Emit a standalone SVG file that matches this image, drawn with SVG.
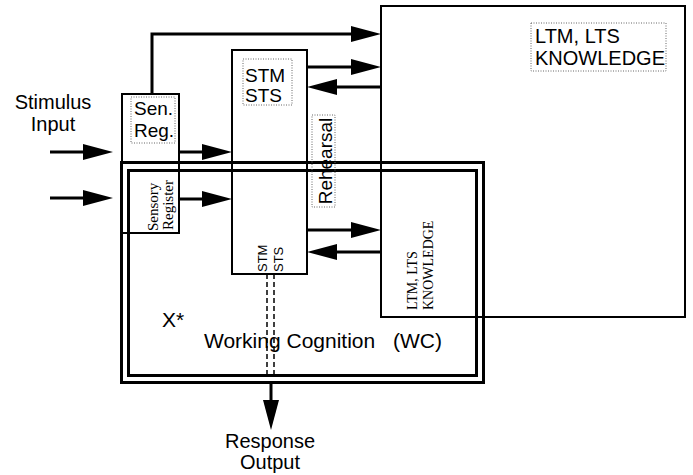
<svg xmlns="http://www.w3.org/2000/svg" width="693" height="475" viewBox="0 0 693 475">
<style>
.box{fill:none;stroke:#000;stroke-width:2}
.wc{fill:none;stroke:#000;stroke-width:3}
.lbl{fill:none;stroke:#666;stroke-width:1;stroke-dasharray:1 1.5}
.arr{fill:none;stroke:#000;stroke-width:3;marker-end:url(#ah)}
.dash{fill:none;stroke:#000;stroke-width:1.5;stroke-dasharray:5 3}
.sans{font-family:"Liberation Sans",Arial,sans-serif;fill:#000}
.serif{font-family:"Liberation Serif","Times New Roman",serif;fill:#000}
</style>
<defs>
<marker id="ah" markerWidth="32" markerHeight="18" refX="20" refY="9" orient="auto" markerUnits="userSpaceOnUse">
<path d="M0,1 L30,9 L0,17 Z" fill="#000"/>
</marker>
</defs>
<rect width="693" height="475" fill="#fff"/>

<g id="ltm">
<rect class="box" x="381" y="6" width="304" height="311"/>
<rect class="lbl" x="531" y="23" width="135" height="48"/>
<text class="sans" x="535" y="43" font-size="20">LTM, LTS</text>
<text class="sans" x="535" y="65" font-size="20">KNOWLEDGE</text>
<text class="serif" font-size="14" transform="translate(417,310) rotate(-90)">LTM, LTS</text>
<text class="serif" font-size="14" transform="translate(433,310) rotate(-90)">KNOWLEDGE</text>
</g>

<g id="stm">
<rect class="box" x="232" y="50" width="75" height="224"/>
<rect class="lbl" x="243" y="59" width="49" height="46"/>
<text class="sans" x="245" y="82" font-size="19">STM</text>
<text class="sans" x="245" y="102" font-size="19">STS</text>
<text class="sans" font-size="13" transform="translate(267,272) rotate(-90)">STM</text>
<text class="sans" font-size="13" transform="translate(283,272) rotate(-90)">STS</text>
</g>

<g id="sensory-register">
<rect class="box" x="122" y="94" width="57" height="139"/>
<rect class="box" x="129" y="171" width="50" height="62"/>
<rect class="lbl" x="131" y="97" width="44" height="46"/>
<text class="sans" x="134" y="115" font-size="19">Sen.</text>
<text class="sans" x="134" y="137" font-size="19">Reg.</text>
<text class="serif" font-size="15" transform="translate(158,231) rotate(-90)">Sensory</text>
<text class="serif" font-size="15" transform="translate(173,230) rotate(-90)">Register</text>
</g>

<g id="working-cognition">
<rect class="wc" x="121.5" y="162.5" width="362" height="220"/>
<rect class="wc" x="128.5" y="170.5" width="348" height="205"/>
<text class="sans" x="162" y="327" font-size="21">X*</text>
<text class="sans" y="348" font-size="21"><tspan x="204">Working Cognition</tspan><tspan x="393">(WC)</tspan></text>
</g>

<g id="rehearsal">
<rect class="lbl" x="312" y="115" width="23" height="92"/>
<text class="sans" font-size="19" text-anchor="middle" transform="translate(332,161) rotate(-90)">Rehearsal</text>
</g>

<g id="stimulus-input">
<text class="sans" x="53" y="109" font-size="20" text-anchor="middle">Stimulus</text>
<text class="sans" x="53" y="131" font-size="20" text-anchor="middle">Input</text>
</g>

<g id="response-output">
<text class="sans" x="270" y="448" font-size="20" text-anchor="middle">Response</text>
<text class="sans" x="270" y="469" font-size="20" text-anchor="middle">Output</text>
</g>

<g id="connectors">
<line class="arr" x1="50" y1="152" x2="103" y2="152"/>
<line class="arr" x1="50" y1="198" x2="103" y2="198"/>
<line class="arr" x1="179" y1="152" x2="222" y2="152"/>
<line class="arr" x1="179" y1="199" x2="222" y2="199"/>
<path class="arr" d="M152,94 V34 H371"/>
<line class="arr" x1="307" y1="67" x2="371" y2="67"/>
<line class="arr" x1="381" y1="87" x2="317" y2="87"/>
<line class="arr" x1="307" y1="230" x2="371" y2="230"/>
<line class="arr" x1="381" y1="252" x2="317" y2="252"/>
<line class="dash" x1="267" y1="274" x2="267" y2="376"/>
<line class="dash" x1="274" y1="274" x2="274" y2="376"/>
<line class="arr" x1="271" y1="384" x2="271" y2="420"/>
</g>
</svg>
